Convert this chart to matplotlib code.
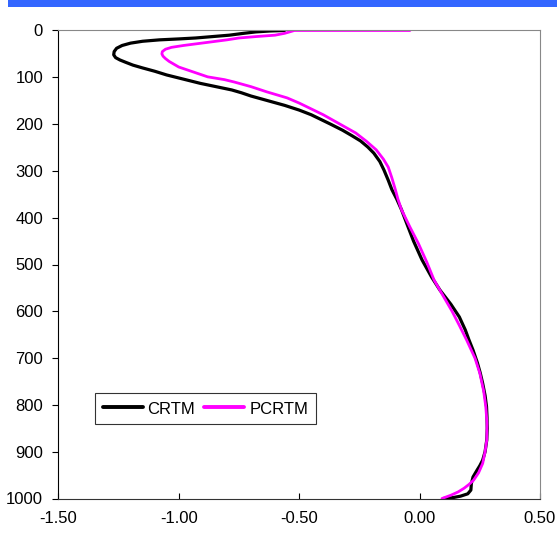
import matplotlib
matplotlib.use("Agg")
import matplotlib.pyplot as plt
from matplotlib.patches import Rectangle

plt.rcParams['font.family'] = ['Liberation Sans', 'DejaVu Sans']

# profile values (x value, level)
crtm_x = [-0.56, -0.62, -0.68, -0.73, -0.79, -0.86, -0.93, -1.00, -1.08, -1.15,
          -1.20, -1.235, -1.258, -1.268, -1.27, -1.262, -1.244, -1.22, -1.19, -1.15,
          -1.10, -1.05, -0.98, -0.91, -0.845, -0.78, -0.74, -0.70, -0.63, -0.56,
          -0.50, -0.45, -0.41, -0.37, -0.32, -0.28, -0.245, -0.215, -0.19, -0.165,
          -0.148, -0.13, -0.115, -0.095, -0.075, -0.055, -0.025, 0.01, 0.05, 0.085,
          0.13, 0.165, 0.19, 0.205, 0.222, 0.24, 0.252, 0.262, 0.272, 0.278,
          0.28, 0.281, 0.279, 0.272, 0.262, 0.25, 0.238, 0.222, 0.215, 0.213,
          0.20, 0.17, 0.14, 0.10]
crtm_p = [0, 1, 3, 6, 10, 13, 16, 18, 20, 23,
          27, 32, 38, 45, 52, 58, 63, 68, 74, 80,
          87, 95, 104, 113, 120, 127, 133, 140, 150, 160,
          170, 180, 190, 200, 213, 225, 236, 249, 262, 280,
          298, 320, 340, 360, 383, 410, 450, 490, 527, 555,
          585, 612, 640, 661, 683, 710, 732, 754, 780, 804,
          826, 850, 875, 900, 918, 930, 940, 954, 968, 982,
          990, 995, 998, 1000]

pcrtm_x = [-0.04, -0.52, -0.54, -0.56, -0.60, -0.68, -0.75, -0.80, -0.86, -0.92,
           -0.98, -1.03, -1.055, -1.068, -1.07, -1.065, -1.055, -1.04, -1.02, -1.00,
           -0.96, -0.92, -0.88, -0.81, -0.77, -0.70, -0.635, -0.55, -0.50, -0.46,
           -0.40, -0.355, -0.31, -0.265, -0.22, -0.18, -0.15, -0.13, -0.115, -0.10,
           -0.09, -0.075, -0.04, -0.005, 0.03, 0.06, 0.09, 0.135, 0.165, 0.195,
           0.23, 0.25, 0.266, 0.275, 0.28, 0.279, 0.272, 0.262, 0.245, 0.224,
           0.205, 0.185, 0.16, 0.13, 0.093]
pcrtm_p = [0, 0, 3, 6, 10, 13, 16, 20, 24, 28,
           32, 36, 40, 45, 50, 55, 60, 66, 72, 78,
           85, 92, 99, 105, 110, 120, 131, 144, 155, 165,
           180, 193, 206, 219, 237, 255, 275, 292, 315, 341,
           360, 383, 420, 455, 495, 533, 560, 600, 630, 661,
           700, 732, 770, 804, 840, 875, 900, 925, 945, 961,
           970, 978, 986, 993, 1000]

x_ticks = [-1.5, -1.0, -0.5, 0.0, 0.5]
y_ticks = [0, 100, 200, 300, 400, 500, 600, 700, 800, 900, 1000]

W, H = 557, 535
fig = plt.figure(figsize=(W / 100, H / 100), dpi=100)
fig.patches.append(Rectangle((8 / W, 1 - 7 / H), 1, 7 / H, transform=fig.transFigure,
                             facecolor='#3366FF', edgecolor='none'))

ax = fig.add_axes([58.3 / W, 1 - 498.5 / H, (540 - 58.3) / W, (498.5 - 30.5) / H])
ax.plot(crtm_x, crtm_p, color='black', lw=2.3, label='CRTM',
        solid_joinstyle='round', solid_capstyle='round')
ax.plot(pcrtm_x, pcrtm_p, color='#FF00FF', lw=2.0, label='PCRTM',
        solid_joinstyle='round', solid_capstyle='round')

ax.set_xlim(-1.5, 0.5)
ax.set_ylim(1000, 0)
ax.set_xticks(x_ticks)
ax.set_xticklabels([f"{v:.2f}" for v in x_ticks])
ax.set_yticks(y_ticks)
ax.tick_params(axis='x', direction='in', length=4, pad=9, labelsize=12)
ax.tick_params(axis='y', direction='out', length=4, pad=7, labelsize=12)

ax.spines['left'].set_color('black')
ax.spines['bottom'].set_color('#333333')
ax.spines['top'].set_color('#888888')
ax.spines['right'].set_color('#888888')

leg = ax.legend(loc='upper left', bbox_to_anchor=(95 / W, 1 - 393 / H),
                bbox_transform=fig.transFigure, ncol=2, fontsize=12,
                frameon=True, fancybox=False, handlelength=2.4, handleheight=1.0,
                columnspacing=0.55, handletextpad=0.3, borderpad=0.45,
                borderaxespad=0)
leg.get_frame().set_edgecolor('black')
leg.get_frame().set_linewidth(0.8)
for line in leg.get_lines():
    line.set_linewidth(2.8)

fig.savefig('out.png', dpi=100)
